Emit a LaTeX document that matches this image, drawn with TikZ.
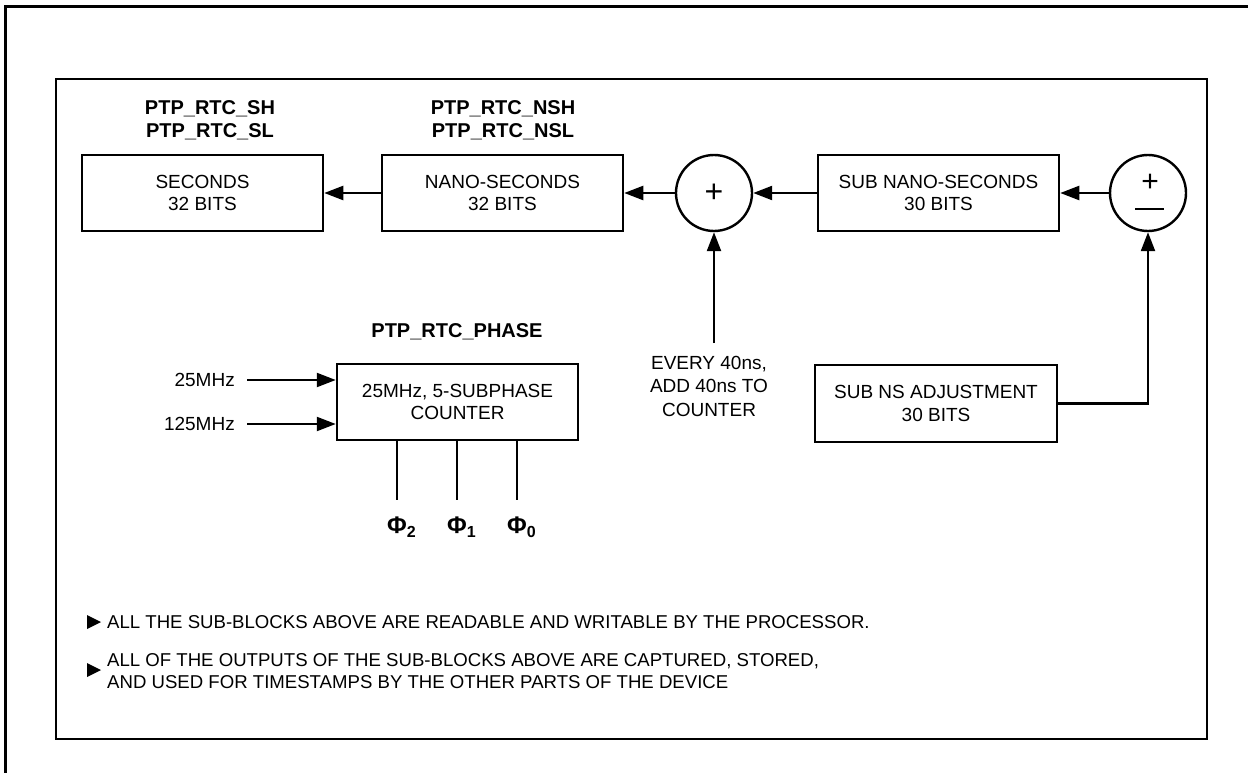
\documentclass[tikz,border=0pt]{standalone}
\usepackage{fontspec}
\setmainfont{Liberation Sans}
\usetikzlibrary{arrows.meta,calc}
\begin{document}
\begin{tikzpicture}[x=1pt,y=-1pt,
  box/.style={draw,line width=2.5pt,minimum width=241pt,minimum height=76pt,align=center,inner sep=0pt,font=\fontsize{19}{22.5}\selectfont},
  sumnode/.style={draw,circle,line width=2.4pt,minimum size=76pt,inner sep=0pt},
  lbl/.style={align=center,inner sep=0pt,font=\fontsize{20}{23}\selectfont\bfseries},
  txt/.style={align=center,inner sep=0pt,font=\fontsize{19}{23.5}\selectfont},
  note/.style={align=left,inner sep=0pt,font=\fontsize{18.6}{22.5}\selectfont},
  phi/.style={inner sep=0pt,font=\fontsize{24}{26}\selectfont\bfseries},
  arr/.style={line width=2.3pt,-{Triangle[length=19pt,width=14pt]}},
  wire/.style={line width=2.3pt}
]
\useasboundingbox (0,0) rectangle (1248,773);
\fill[white] (0,0) rectangle (1248,773);
% frames
\draw[line width=3pt] (5,773) -- (5,7) -- (1248,7);
\draw[line width=2.6pt] (56,79) rectangle (1207,739);

% top row
\node[box] (sec) at (202.5,193) {SECONDS\\32 BITS};
\node[box] (nano) at (502.5,193) {NANO-SECONDS\\32 BITS};
\node[sumnode,font=\fontsize{32}{32}\selectfont] (plus) at (714,193) {+};
\node[box] (subns) at (938.5,193) {SUB NANO-SECONDS\\30 BITS};
\node[sumnode] (pm) at (1148,193) {};
\node[inner sep=0pt,font=\fontsize{30}{30}\selectfont] (pmplus) at (1150,183) {+};
\draw[line width=2.2pt] (1135,209) -- (1164,209);

\node[lbl] (shl) at (210,120.5) {PTP\_RTC\_SH\\PTP\_RTC\_SL};
\node[lbl] (nsl) at (503,120.5) {PTP\_RTC\_NSH\\PTP\_RTC\_NSL};

\draw[arr] (pm.west) -- (subns.east);
\draw[arr] (subns.west) -- (plus.east);
\draw[arr] (plus.west) -- (nano.east);
\draw[arr] (nano.west) -- (sec.east);

% adder input
\node[txt] (every) at (709,386) {EVERY 40ns,\\ADD 40ns TO\\COUNTER};
\coordinate (ev) at (714,343);
\draw[arr] (ev) -- (plus.south);

% adjustment
\node[box,minimum width=242pt,minimum height=77pt] (adj) at (936,403.5) {SUB NS ADJUSTMENT\\30 BITS};
\draw[arr] (adj.east) -| (pm.south);

% phase counter
\node[lbl] (phl) at (457,332) {PTP\_RTC\_PHASE};
\node[box] (cnt) at (457.5,402) {25MHz, 5-SUBPHASE\\COUNTER};
\node[txt,anchor=east] (f25) at (235,380) {25MHz};
\node[txt,anchor=east] (f125) at (235,424) {125MHz};
\draw[arr] ([xshift=12pt]f25.east) -- (cnt.west |- f25.east);
\draw[arr] ([xshift=12pt]f125.east) -- (cnt.west |- f125.east);

\coordinate (e2) at (397,500);
\coordinate (e1) at (457,500);
\coordinate (e0) at (517,500);
\draw[wire] (cnt.south -| e2) -- (e2);
\draw[wire] (cnt.south -| e1) -- (e1);
\draw[wire] (cnt.south -| e0) -- (e0);
\node[phi] (p2) at (397,527) {Φ\rlap{\fontsize{16}{16}\selectfont\raisebox{-4pt}{2}}};
\node[phi] (p1) at (457,527) {Φ\rlap{\fontsize{16}{16}\selectfont\raisebox{-4pt}{1}}};
\node[phi] (p0) at (517,527) {Φ\rlap{\fontsize{16}{16}\selectfont\raisebox{-4pt}{0}}};

% notes
\fill (87,615) -- (101,622) -- (87,629) -- cycle;
\node[note,anchor=west] (t1) at (107,622) {ALL THE SUB-BLOCKS ABOVE ARE READABLE AND WRITABLE BY THE PROCESSOR.};
\fill (87,663) -- (101,670) -- (87,677) -- cycle;
\node[note,anchor=west] (t2) at (107,671) {ALL OF THE OUTPUTS OF THE SUB-BLOCKS ABOVE ARE CAPTURED, STORED,\\AND USED FOR TIMESTAMPS BY THE OTHER PARTS OF THE DEVICE};
\end{tikzpicture}
\end{document}
